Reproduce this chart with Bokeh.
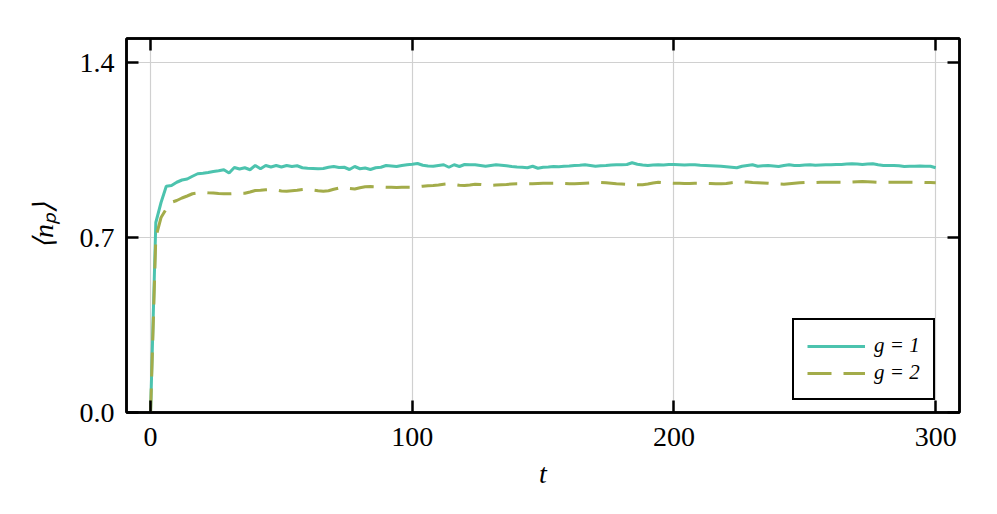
from bokeh.plotting import figure
from bokeh.models import Range1d, FixedTicker, LinearAxis, PrintfTickFormatter, Legend, LegendItem
from bokeh.embed import file_html
from bokeh.resources import INLINE

# ---- data ----
t_vals = list(range(0, 301, 2))
n_g1 = [
    0.000, 0.760, 0.840, 0.905, 0.908, 0.921, 0.930, 0.934, 0.945, 0.955,
    0.957, 0.960, 0.964, 0.967, 0.971, 0.958, 0.980, 0.974, 0.979, 0.971,
    0.988, 0.975, 0.988, 0.982, 0.988, 0.982, 0.988, 0.984, 0.987, 0.979,
    0.977, 0.976, 0.975, 0.976, 0.981, 0.984, 0.980, 0.981, 0.972, 0.984,
    0.975, 0.978, 0.972, 0.979, 0.981, 0.988, 0.986, 0.984, 0.988, 0.991,
    0.993, 0.996, 0.989, 0.986, 0.985, 0.988, 0.991, 0.981, 0.991, 0.984,
    0.992, 0.991, 0.991, 0.988, 0.985, 0.988, 0.991, 0.989, 0.987, 0.984,
    0.982, 0.981, 0.979, 0.985, 0.977, 0.981, 0.982, 0.984, 0.983, 0.985,
    0.986, 0.988, 0.989, 0.991, 0.988, 0.985, 0.987, 0.988, 0.990, 0.991,
    0.991, 0.992, 0.999, 0.993, 0.990, 0.988, 0.990, 0.991, 0.990, 0.992,
    0.992, 0.991, 0.990, 0.991, 0.991, 0.989, 0.988, 0.987, 0.986, 0.985,
    0.983, 0.981, 0.979, 0.985, 0.988, 0.991, 0.985, 0.987, 0.988, 0.986,
    0.984, 0.988, 0.991, 0.988, 0.988, 0.990, 0.991, 0.989, 0.990, 0.991,
    0.991, 0.992, 0.992, 0.994, 0.995, 0.994, 0.992, 0.994, 0.995, 0.991,
    0.988, 0.988, 0.988, 0.987, 0.984, 0.985, 0.985, 0.986, 0.985, 0.985,
    0.979,
]
n_g2 = [
    0.000, 0.700, 0.780, 0.815, 0.841, 0.848, 0.858, 0.866, 0.875, 0.878,
    0.881, 0.879, 0.878, 0.876, 0.875, 0.875, 0.876, 0.877, 0.877, 0.882,
    0.888, 0.889, 0.891, 0.892, 0.890, 0.886, 0.885, 0.887, 0.889, 0.892,
    0.894, 0.890, 0.887, 0.885, 0.887, 0.893, 0.898, 0.901, 0.896, 0.894,
    0.899, 0.903, 0.904, 0.903, 0.902, 0.901, 0.901, 0.900, 0.901, 0.901,
    0.901, 0.903, 0.905, 0.907, 0.908, 0.910, 0.913, 0.915, 0.912, 0.909,
    0.908, 0.910, 0.913, 0.912, 0.910, 0.909, 0.910, 0.911, 0.912, 0.914,
    0.915, 0.915, 0.915, 0.915, 0.916, 0.917, 0.917, 0.917, 0.917, 0.916,
    0.915, 0.915, 0.916, 0.917, 0.918, 0.920, 0.920, 0.919, 0.917, 0.915,
    0.914, 0.913, 0.912, 0.911, 0.911, 0.914, 0.918, 0.921, 0.919, 0.918,
    0.917, 0.917, 0.916, 0.916, 0.917, 0.917, 0.917, 0.916, 0.915, 0.915,
    0.916, 0.919, 0.922, 0.923, 0.922, 0.920, 0.919, 0.918, 0.917, 0.915,
    0.914, 0.913, 0.915, 0.917, 0.919, 0.920, 0.920, 0.920, 0.921, 0.921,
    0.921, 0.921, 0.921, 0.921, 0.922, 0.923, 0.924, 0.923, 0.922, 0.921,
    0.921, 0.921, 0.921, 0.921, 0.921, 0.921, 0.921, 0.921, 0.920, 0.920,
    0.919,
]
x_ticks = [0, 100, 200, 300]
y_ticks = [0.0, 0.7, 1.4]
labels = ["g = 1", "g = 2"]

FONT = "Liberation Serif"
C1 = "#4CC3AE"
C2 = "#A3AC4A"

p = figure(frame_width=833, frame_height=374, output_backend="svg", toolbar_location=None,
           x_range=Range1d(-9.2, 309.1), y_range=Range1d(0, 1.496),
           min_border_left=126, min_border_top=38, min_border_right=20, min_border_bottom=84)

p.outline_line_color = "black"
p.outline_line_width = 2.5
p.background_fill_color = "white"
p.border_fill_color = "white"

r1 = p.line(t_vals, n_g1, line_color=C1, line_width=3)
r2 = p.line(t_vals, n_g2, line_color=C2, line_width=3, line_dash="24 12")

for ax, tk in ((p.xaxis[0], x_ticks), (p.yaxis[0], y_ticks)):
    ax.ticker = FixedTicker(ticks=tk)
    ax.major_tick_in = 12
    ax.major_tick_out = 0
    ax.major_tick_line_width = 2.5
    ax.major_tick_line_color = "black"
    ax.minor_tick_line_color = None
    ax.axis_line_width = 2.5
    ax.axis_line_color = "black"
    ax.major_label_text_font = FONT
    ax.major_label_text_font_size = "28px"
    ax.major_label_text_color = "black"
    ax.axis_label_text_font = FONT
    ax.axis_label_text_font_size = "28px"
    ax.axis_label_text_font_style = "italic"
    ax.axis_label_text_color = "black"

p.yaxis[0].formatter = PrintfTickFormatter(format="%.1f")
p.xaxis[0].axis_label = "t"
p.yaxis[0].axis_label = "⟨nₚ⟩"
p.xaxis[0].major_label_standoff = 15
p.yaxis[0].major_label_standoff = 12
p.xaxis[0].axis_label_standoff = 9
p.yaxis[0].axis_label_standoff = 18

for loc, tk in (("right", y_ticks), ("above", x_ticks)):
    ax = LinearAxis(ticker=FixedTicker(ticks=tk))
    ax.major_tick_in = 12
    ax.major_tick_out = 0
    ax.major_tick_line_width = 2.5
    ax.major_tick_line_color = "black"
    ax.minor_tick_line_color = None
    ax.axis_line_width = 2.5
    ax.axis_line_color = "black"
    ax.major_label_text_color = None
    ax.major_label_text_font_size = "10px"
    ax.major_label_standoff = 0
    p.add_layout(ax, loc)

p.xgrid.ticker = FixedTicker(ticks=x_ticks)
p.ygrid.ticker = FixedTicker(ticks=y_ticks)
for g in (p.xgrid[0], p.ygrid[0]):
    g.grid_line_color = "#d0d0d0"
    g.grid_line_width = 1.2

legend = Legend(items=[LegendItem(label=labels[0], renderers=[r1]),
                       LegendItem(label=labels[1], renderers=[r2])],
                location=(666, 12), margin=0)
legend.border_line_color = "black"
legend.border_line_alpha = 1.0
legend.border_line_width = 2.5
legend.background_fill_color = "white"
legend.background_fill_alpha = 1
legend.label_text_font = FONT
legend.label_text_font_style = "italic"
legend.label_text_font_size = "21px"
legend.label_text_color = "black"
legend.glyph_width = 58
legend.glyph_height = 24
legend.label_height = 24
legend.label_standoff = 9
legend.padding = 13
legend.spacing = 2
p.add_layout(legend, "center")

open("out.html", "w").write(file_html(p, INLINE))
